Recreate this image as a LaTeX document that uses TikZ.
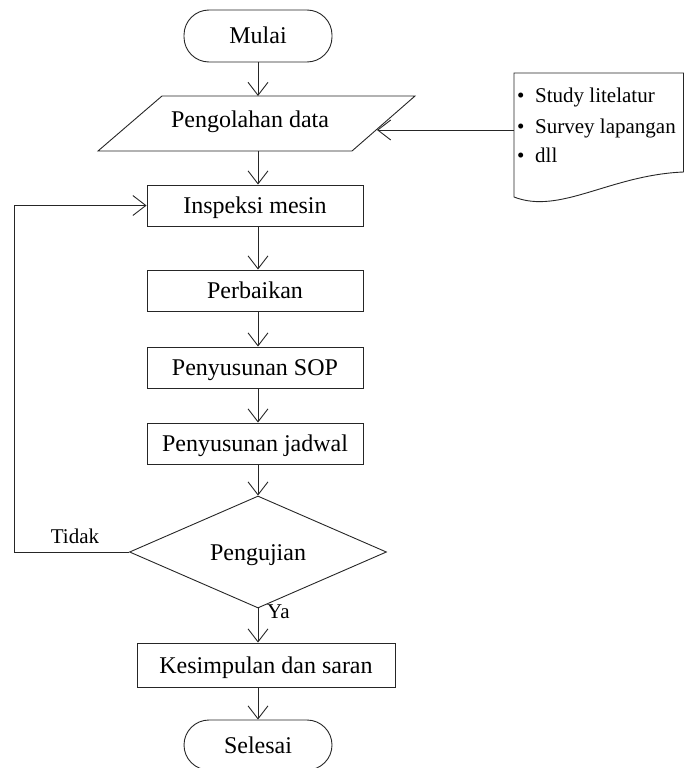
\documentclass[tikz,border=0pt]{standalone}
\usepackage{fontspec}
\setmainfont{Liberation Serif}
\usetikzlibrary{arrows.meta,shapes.geometric,calc}
\begin{document}
\begin{tikzpicture}[x=1pt,y=-1pt,
  line/.style={draw=black!85, line width=0.9pt},
  arr/.style={line, -{Straight Barb[length=13pt,width=20pt,line width=0.9pt]}},
  base/.style={font=\fontsize{24}{28}\selectfont, text height=16pt, text depth=0pt, inner sep=0pt},
  box/.style={base, line, rectangle, minimum width=216pt, minimum height=41pt},
  term/.style={base, line, rectangle, rounded corners=25pt, minimum width=148pt, minimum height=52pt},
  dec/.style={base, line, diamond, minimum width=257pt, minimum height=91pt},
  lbl/.style={font=\fontsize{21}{25}\selectfont, inner sep=0pt},
  doc/.style={font=\fontsize{21}{25}\selectfont, inner sep=0pt, anchor=base west}
]
\useasboundingbox (0,0) rectangle (683,768);
\coordinate (col) at (258,0);

% start
\node[term] (start) at (258,36) {Mulai};

% data processing parallelogram
\coordinate (p1) at (162,96);
\coordinate (p2) at (415,96);
\coordinate (p3) at (352,151);
\coordinate (p4) at (98,151);
\draw[line] (p1) -- (p2) -- (p3) -- (p4) -- cycle;
\node[base] (proc) at (250,119.5) {Pengolahan data};
\coordinate (ptop) at (258,96);
\coordinate (pbot) at (258,151);
\coordinate (pin) at (377,130);

% input document
\coordinate (docin) at (514,130);
\draw[line] (514,197) -- (514,73) -- (683.5,73) -- (683.5,172)
  .. controls (610,175) and (560,215) .. (514,197) -- cycle;
\node[doc] (d1) at (517,102) {\makebox[18pt][l]{\textbullet}Study litelatur};
\node[doc] (d2) at (517,133) {\makebox[18pt][l]{\textbullet}Survey lapangan};
\node[doc] (d3) at (517,162) {\makebox[18pt][l]{\textbullet}dll};

% process boxes
\node[box] (insp) at (255,205.5) {Inspeksi mesin};
\node[box] (perb) at (255,290.5) {Perbaikan};
\node[box] (sop)  at (255,367.5) {Penyusunan SOP};
\node[box] (jad)  at (255,443.5) {Penyusunan jadwal};
\node[dec] (test) at (258,552) {Pengujian};
\node[box, minimum width=258pt, minimum height=44pt] (kes) at (266,665) {Kesimpulan dan saran};
\node[term, minimum height=50pt] (end) at (258,745) {Selesai};

% connectors
\draw[arr] (start) -- (ptop);
\draw[arr] (docin) -- (pin);
\draw[arr] (pbot) -- (pbot |- insp.north);
\draw[arr] (insp.south -| col) -- (perb.north -| col);
\draw[arr] (perb.south -| col) -- (sop.north -| col);
\draw[arr] (sop.south -| col) -- (jad.north -| col);
\draw[arr] (jad.south -| col) -- (test.north);
\draw[arr] (test.south) -- (kes.north -| col);
\draw[arr] (kes.south -| col) -- (end.north);
\coordinate (fb) at (14,552);
\draw[arr] (test.west) -- (fb) |- (insp.west);

% labels
\node[lbl] (tidak) at (75,536) {Tidak};
\node[lbl, anchor=west] (ya) at (267,612) {Ya};
\end{tikzpicture}
\end{document}
